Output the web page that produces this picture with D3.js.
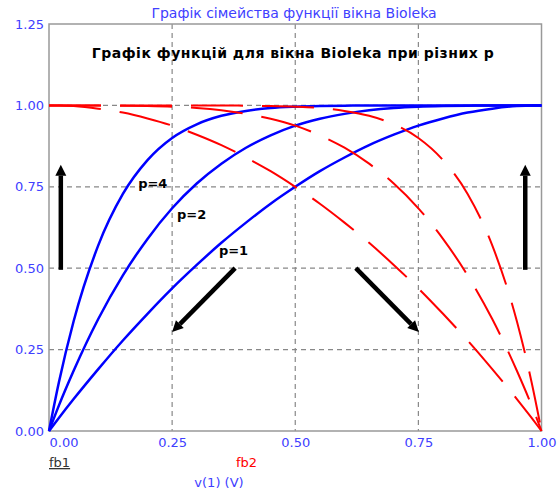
<!DOCTYPE html>
<html>
<head>
<meta charset="utf-8">
<script src="https://cdn.jsdelivr.net/npm/d3@7"></script>
<style>
  html, body { margin: 0; padding: 0; background: #fff; }
  svg { display: block; }
</style>
</head>
<body>
<svg id="chart" width="559" height="491"></svg>
<script>
// Sample positions along v(1)
const xs = [0, 0.02, 0.05, 0.1, 0.15, 0.2, 0.25, 0.3, 0.35, 0.4, 0.45, 0.5,
            0.55, 0.6, 0.65, 0.7, 0.75, 0.8, 0.85, 0.9, 0.95, 0.98, 1];

// fb1 family (rising window edge), p = 1, 2, 4
const fb1_p1 = [0, 0.040, 0.098, 0.190, 0.278, 0.360, 0.438, 0.510, 0.578, 0.640, 0.698, 0.750,
                0.798, 0.840, 0.878, 0.910, 0.938, 0.960, 0.978, 0.990, 0.998, 1.000, 1];
const fb1_p2 = [0, 0.078, 0.185, 0.344, 0.478, 0.590, 0.684, 0.760, 0.821, 0.870, 0.908, 0.938,
                0.959, 0.974, 0.985, 0.992, 0.996, 0.998, 0.999, 1.000, 1.000, 1.000, 1];
const fb1_p4 = [0, 0.149, 0.337, 0.570, 0.728, 0.832, 0.900, 0.942, 0.968, 0.983, 0.992, 0.996,
                0.998, 0.999, 1.000, 1.000, 1.000, 1.000, 1.000, 1.000, 1.000, 1.000, 1];

// fb2 family (falling window edge), p = 1, 2, 4
const fb2_p1 = [1, 1.000, 0.998, 0.990, 0.978, 0.960, 0.938, 0.910, 0.878, 0.840, 0.798, 0.750,
                0.698, 0.640, 0.578, 0.510, 0.438, 0.360, 0.278, 0.190, 0.098, 0.040, 0];
const fb2_p2 = [1, 1.000, 1.000, 1.000, 0.999, 0.998, 0.996, 0.992, 0.985, 0.974, 0.959, 0.938,
                0.908, 0.870, 0.821, 0.760, 0.684, 0.590, 0.478, 0.344, 0.185, 0.078, 0];
const fb2_p4 = [1, 1.000, 1.000, 1.000, 1.000, 1.000, 1.000, 1.000, 1.000, 0.999, 0.998, 0.996,
                0.992, 0.983, 0.968, 0.942, 0.900, 0.832, 0.728, 0.570, 0.337, 0.149, 0];

// Axis ticks
const xTicks = [0, 0.25, 0.5, 0.75, 1];
const yTicks = [0, 0.25, 0.5, 0.75, 1, 1.25];

// Curve labels
const pLabels = ["p=4", "p=2", "p=1"];
const pLabelX = [0.181, 0.260, 0.345];
const pLabelY = [0.746, 0.651, 0.541];

// Arrows showing how the curves move as p grows: [x0, y0, x1, y1]
const arrows = [
  [0.024, 0.495, 0.024, 0.818],
  [0.967, 0.495, 0.967, 0.818],
  [0.378, 0.500, 0.250, 0.304],
  [0.623, 0.500, 0.751, 0.304]
];

const titleTop = "Графік сімейства функції вікна Bioleka";
const titleInner = "Графік функцій для вікна Bioleka при різних p";

const svg = d3.select("#chart");
const L = 49, R = 541.5, T = 24, B = 431;
const x = d3.scaleLinear().domain([0, 1]).range([L, R]);
const y = d3.scaleLinear().domain([0, 1.25]).range([B, T]);

const tickColor = "#4040ff";
const font = "'DejaVu Sans', Verdana, sans-serif";

// Grid
const grid = svg.append("g").attr("stroke", "#888").attr("stroke-width", 1.2)
  .attr("stroke-dasharray", "5,4");
grid.selectAll("line.v").data(xTicks.filter(d => d > 0 && d < 1)).join("line")
  .attr("x1", d => x(d)).attr("x2", d => x(d)).attr("y1", y(1.25)).attr("y2", y(0));
grid.selectAll("line.h").data(yTicks.filter(d => d > 0 && d < 1.25)).join("line")
  .attr("x1", x(0)).attr("x2", x(1)).attr("y1", d => y(d)).attr("y2", d => y(d));

// Frame
svg.append("rect").attr("x", x(0)).attr("y", y(1.25))
  .attr("width", x(1) - x(0)).attr("height", y(0) - y(1.25))
  .attr("fill", "none").attr("stroke", "#999").attr("stroke-width", 1.5);

// Axes
const yAxis = svg.append("g").attr("transform", `translate(${x(0)},0)`)
  .call(d3.axisLeft(y).tickValues(yTicks).tickFormat(d3.format(".2f")).tickSize(0).tickPadding(5));
const xAxis = svg.append("g").attr("transform", `translate(0,${y(0)})`)
  .call(d3.axisBottom(x).tickValues(xTicks).tickFormat(d3.format(".2f")).tickSize(0).tickPadding(7));
[yAxis, xAxis].forEach(a => {
  a.select(".domain").remove();
  a.selectAll("text").attr("fill", tickColor).style("font-family", font).style("font-size", "13px");
});
xAxis.selectAll("text").filter(d => d === 0).attr("text-anchor", "start");

// Curves
const line = d3.line().x((d, i) => x(xs[i])).y(d => y(d)).curve(d3.curveMonotoneX);
[fb1_p1, fb1_p2, fb1_p4].forEach(s => {
  svg.append("path").attr("d", line(s)).attr("fill", "none")
    .attr("stroke", "#0000ff").attr("stroke-width", 2.5);
});
[fb2_p1, fb2_p2, fb2_p4].forEach(s => {
  svg.append("path").attr("d", line(s)).attr("fill", "none")
    .attr("stroke", "#ff0000").attr("stroke-width", 2).attr("stroke-dasharray", "52,19");
});

// Arrows
arrows.forEach(([a, b, c, d]) => {
  const x0 = x(a), y0 = y(b), x1 = x(c), y1 = y(d);
  const ang = Math.atan2(y1 - y0, x1 - x0);
  const hl = 11, hw = 5.5;
  const bx = x1 - hl * Math.cos(ang), by = y1 - hl * Math.sin(ang);
  svg.append("line").attr("x1", x0).attr("y1", y0).attr("x2", bx).attr("y2", by)
    .attr("stroke", "#000").attr("stroke-width", 4.5);
  const px = -Math.sin(ang) * hw, py = Math.cos(ang) * hw;
  svg.append("polygon")
    .attr("points", `${x1},${y1} ${bx + px},${by + py} ${bx - px},${by - py}`)
    .attr("fill", "#000");
});

// Curve labels
svg.selectAll("text.plab").data(pLabels).join("text").attr("class", "plab")
  .attr("x", (d, i) => x(pLabelX[i])).attr("y", (d, i) => y(pLabelY[i]))
  .attr("fill", "#000").style("font-family", font).style("font-weight", "bold")
  .style("font-size", "13px").text(d => d);

// Titles
svg.append("text").attr("x", 294).attr("y", 18).attr("text-anchor", "middle")
  .attr("fill", tickColor).style("font-family", font).style("font-size", "14px").text(titleTop);
svg.append("text").attr("x", 293).attr("y", 58).attr("text-anchor", "middle")
  .attr("fill", "#000").style("font-family", font).style("font-weight", "bold")
  .style("font-size", "14px").style("letter-spacing", "0.5px").text(titleInner);

// Legend and axis name
svg.append("text").attr("x", 49).attr("y", 467).attr("fill", "#333")
  .style("font-family", font).style("font-size", "13px")
  .style("text-decoration", "underline").text("fb1");
svg.append("text").attr("x", 236).attr("y", 467).attr("fill", "#ff0000")
  .style("font-family", font).style("font-size", "13px").text("fb2");
svg.append("text").attr("x", 219).attr("y", 487).attr("text-anchor", "middle").attr("fill", tickColor)
  .style("font-family", font).style("font-size", "13px").text("v(1) (V)");
</script>
</body>
</html>
